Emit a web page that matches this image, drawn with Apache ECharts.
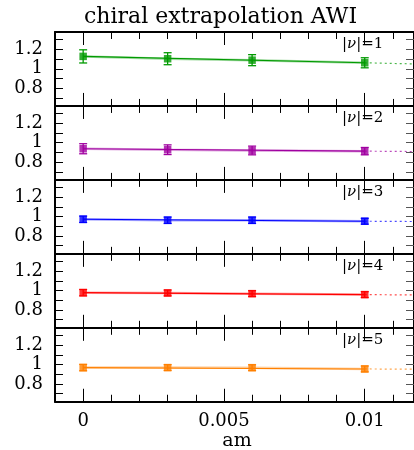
<!DOCTYPE html>
<html>
<head>
<meta charset="utf-8">
<script src="https://cdn.jsdelivr.net/npm/echarts@6/dist/echarts.min.js"></script>
<style>html,body{margin:0;padding:0;background:#fff}#c{width:414px;height:450px}</style>
</head>
<body>
<div id="c"></div>
<script>
// ---- data ----
const am = [0, 0.003, 0.006, 0.01];
const nuLabels = ['1', '2', '3', '4', '5'];
const nu1 = [1.128, 1.104, 1.089, 1.062];
const err1 = [0.068, 0.062, 0.057, 0.052];
const nu2 = [0.938, 0.928, 0.920, 0.913];
const err2 = [0.052, 0.050, 0.045, 0.038];
const nu3 = [0.973, 0.963, 0.963, 0.953];
const err3 = [0.033, 0.033, 0.033, 0.030];
const nu4 = [0.979, 0.976, 0.969, 0.959];
const err4 = [0.033, 0.030, 0.030, 0.030];
const nu5 = [0.969, 0.969, 0.968, 0.955];
const err5 = [0.033, 0.030, 0.030, 0.030];
// fit line: value at am=0, at am=0.01, and at right edge (dotted part)
const fitStart = [1.128, 0.938, 0.973, 0.979, 0.969];
const fitMid = [1.062, 0.913, 0.953, 0.959, 0.955];
const fitEnd = [1.050, 0.909, 0.950, 0.955, 0.952];
const xMin = -0.001, xMax = 0.01175;
const yMin = 0.616, yMax = 1.38;
const xMajor = [0, 0.005, 0.01];
const xMinor = [0.001, 0.002, 0.003, 0.004, 0.006, 0.007, 0.008, 0.009, 0.011];
const yTicks = [0.7, 0.8, 0.9, 1.0, 1.1, 1.2, 1.3];
const yLabels = [0.8, 1, 1.2];
const titleText = 'chiral extrapolation AWI';
const xName = 'am';

const values = [nu1, nu2, nu3, nu4, nu5];
const errs = [err1, err2, err3, err4, err5];
const colors = ['#009a00', '#a000a0', '#0000ff', '#ff0000', '#ff8000'];
const FONT = 'DejaVu Serif';

const chart = echarts.init(document.getElementById('c'), null, {renderer: 'canvas'});
const panelTop = 32, panelH = 73.95;
const grid = [], xAxis = [], yAxis = [], series = [], graphic = [];

for (let i = 0; i < 5; i++) {
  grid.push({left: 55, right: 0, top: panelTop + i * panelH, height: panelH});
  const last = i === 4;
  const baseX = {gridIndex: i, type: 'value', min: xMin, max: xMax, splitLine: {show: false}};
  xAxis.push(Object.assign({}, baseX, {position: 'bottom',
    axisLine: {show: true, onZero: false, lineStyle: {color: '#000', width: 2}},
    axisTick: {show: true, inside: true, length: 7, customValues: xMinor, lineStyle: {color: '#000', width: 1}},
    axisLabel: {show: false}}));
  xAxis.push(Object.assign({}, baseX, {position: 'bottom',
    axisLine: {show: false, onZero: false},
    axisTick: {show: true, inside: true, length: 13, customValues: xMajor, lineStyle: {color: '#000', width: 1}},
    axisLabel: {show: last, customValues: xMajor, margin: 11, color: '#000', fontFamily: FONT, fontSize: 18,
      formatter: v => String(v)}}));
  xAxis.push(Object.assign({}, baseX, {position: 'top',
    axisLine: {show: true, onZero: false, lineStyle: {color: '#000', width: 2}},
    axisTick: {show: true, inside: true, length: 7, customValues: xMinor, lineStyle: {color: '#000', width: 1}},
    axisLabel: {show: false}}));
  xAxis.push(Object.assign({}, baseX, {position: 'top',
    axisLine: {show: false, onZero: false},
    axisTick: {show: true, inside: true, length: 13, customValues: xMajor, lineStyle: {color: '#000', width: 1}},
    axisLabel: {show: false}}));
  const baseY = {gridIndex: i, type: 'value', min: yMin, max: yMax, splitLine: {show: false}};
  yAxis.push(Object.assign({}, baseY, {position: 'left',
    axisLine: {show: true, onZero: false, lineStyle: {color: '#000', width: 2}},
    axisTick: {show: true, inside: true, length: 8, customValues: yTicks, lineStyle: {color: '#000', width: 1}},
    axisLabel: {show: true, customValues: yLabels, margin: 12, color: '#000', fontFamily: FONT, fontSize: 18,
      formatter: v => String(v)}}));
  yAxis.push(Object.assign({}, baseY, {position: 'right',
    axisLine: {show: true, onZero: false, lineStyle: {color: '#000', width: 2}},
    axisTick: {show: true, inside: true, length: 8, customValues: yTicks, lineStyle: {color: '#555', width: 1}},
    axisLabel: {show: false}}));

  const xi = i * 4, yi = i * 2;
  const col = colors[i];
  const pts = am.map((x, k) => [x, values[i][k]]);
  series.push({type: 'line', xAxisIndex: xi, yAxisIndex: yi, data: pts, symbol: 'none', silent: true,
    lineStyle: {color: col, width: 2.5, opacity: 0.35}, z: 2});
  series.push({type: 'line', xAxisIndex: xi, yAxisIndex: yi, symbol: 'none', silent: true,
    data: [[am[0], fitStart[i]], [am[am.length - 1], fitMid[i]]],
    lineStyle: {color: col, width: 1.1}, z: 3});
  series.push({type: 'line', xAxisIndex: xi, yAxisIndex: yi, symbol: 'none', silent: true,
    data: [[am[am.length - 1], fitMid[i]], [xMax, fitEnd[i]]],
    lineStyle: {color: col, width: 1.2, type: [2, 3], opacity: 0.7}, z: 3});
  series.push({type: 'custom', xAxisIndex: xi, yAxisIndex: yi, silent: true, z: 4,
    data: am.map((x, k) => [x, values[i][k], errs[i][k]]),
    encode: {x: 0, y: 1},
    renderItem: (params, api) => {
      const x = api.value(0), y = api.value(1), e = api.value(2);
      const lo = api.coord([x, y - e]), hi = api.coord([x, y + e]);
      const w = 4;
      const st = {stroke: col, lineWidth: 1.3};
      return {type: 'group', children: [
        {type: 'line', shape: {x1: lo[0], y1: lo[1], x2: hi[0], y2: hi[1]}, style: st},
        {type: 'line', shape: {x1: lo[0] - w, y1: lo[1], x2: lo[0] + w, y2: lo[1]}, style: st},
        {type: 'line', shape: {x1: hi[0] - w, y1: hi[1], x2: hi[0] + w, y2: hi[1]}, style: st}
      ]};
    }});
  series.push({type: 'scatter', xAxisIndex: xi, yAxisIndex: yi, data: pts, symbol: 'rect', symbolSize: 7.5,
    itemStyle: {color: col}, silent: true, z: 5});
  graphic.push({type: 'text', left: 342, top: panelTop + i * panelH + 5,
    style: {text: '|{i|ν}|=' + nuLabels[i], font: '15px "DejaVu Serif"', fill: '#000',
      rich: {i: {fontStyle: 'italic', fontFamily: FONT, fontSize: 15}}}});
}

graphic.push({type: 'text', left: 84, top: 6,
  style: {text: titleText, font: '22px "DejaVu Serif"', fill: '#000'}});
graphic.push({type: 'text', x: 237, y: 441,
  style: {text: xName, font: '19px "DejaVu Serif"', fill: '#000', align: 'center', verticalAlign: 'middle'}});

chart.setOption({
  animation: false,
  backgroundColor: '#fff',
  grid, xAxis, yAxis, series, graphic
});
</script>
</body>
</html>
